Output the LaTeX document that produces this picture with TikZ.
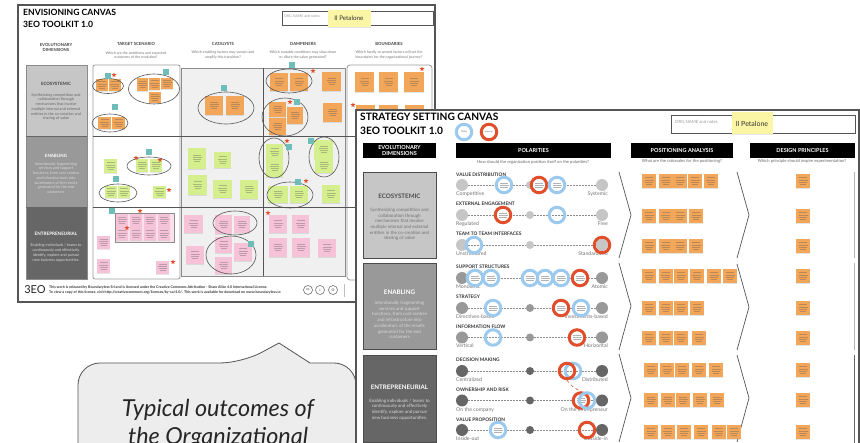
\documentclass[tikz,border=0pt]{standalone}
\usepackage{amsmath}
\usepackage{fontspec}
\setmainfont{Lato}
\usetikzlibrary{shapes.geometric,shadows}
\definecolor{frameG}{HTML}{555555}
\definecolor{stO}{HTML}{F2A65A}
\definecolor{stG}{HTML}{D6EF8E}
\definecolor{stP}{HTML}{F6C2D8}
\definecolor{tagC}{HTML}{6FBDB8}
\definecolor{redR}{HTML}{E04E2B}
\definecolor{bluR}{HTML}{9CC9EE}
\definecolor{yelS}{HTML}{FBF5A6}
\definecolor{dimA}{HTML}{C6C6C6}
\definecolor{dimB}{HTML}{999999}
\definecolor{dimC}{HTML}{666666}
\newcommand{\fs}[1]{\fontsize{#1}{\dimexpr#1pt*5/4\relax}\selectfont}
\tikzset{
	sz/.style 2 args={minimum width=#1pt,minimum height=#2pt},
	sticky/.style={rectangle,inner sep=0pt,drop shadow={shadow xshift=0pt,shadow yshift=-1pt,opacity=.2},
		path picture={\draw[black!70,line width=.6pt,opacity=.33]
			([yshift=3.3pt]path picture bounding box.center) ++(-4,0) -- ++(8,0)
			([yshift=1.1pt]path picture bounding box.center) ++(-4.5,0) -- ++(9,0)
			([yshift=-1.1pt]path picture bounding box.center) ++(-4,0) -- ++(8,0)
			([yshift=-3.3pt]path picture bounding box.center) ++(-3,0) -- ++(6,0);}},
	ost/.style={sticky,fill=stO},
	gst/.style={sticky,fill=stG},
	pst/.style={sticky,fill=stP},
	pa/.style={ost,sz={14}{14}},
	tagbox/.style={rectangle,fill=tagC,minimum size=6pt,inner sep=0pt},
	rstar/.style={star,star points=5,star point ratio=2.2,fill=redR,minimum size=5pt,inner sep=0pt},
	oval/.style={draw=frameG,line width=.6pt},
	head/.style={font=\bfseries\fs{4.2},text=black!75,align=center},
	qst/.style={font=\fs{3.6},text=black!55,align=center},
	dimbox/.style={rectangle,draw=black!70,line width=.7pt,inner sep=0pt,minimum width=73pt,minimum height=86pt},
	blackh/.style={rectangle,fill=black,text=white,font=\bfseries\fs{5.5},align=center,inner sep=0pt,minimum height=15pt},
	dimtit/.style={font=\bfseries\fs{6.2},align=center},
	dimtxt/.style={font=\fontsize{4.5}{5.7}\selectfont,align=center},
	dot/.style={circle,inner sep=0pt,minimum size=12pt},
	mid/.style={circle,inner sep=0pt,minimum size=8pt},
	pol/.style={dash pattern=on 2pt off 1pt,draw=black!45,line width=.5pt},
	poltit/.style={anchor=west,font=\bfseries\fs{4.8},text=black!80,inner sep=0pt},
	polL/.style={anchor=west,font=\fs{5.2},text=black!55,inner sep=0pt},
	polR/.style={anchor=east,font=\fs{5.2},text=black!55,inner sep=0pt},
	ring/.style={circle,inner sep=0pt,minimum size=15.5pt,line width=3pt},
	rb/.style={ring,draw=bluR},
	rr/.style={ring,draw=redR},
	rtx/.style={fill=white,path picture={\draw[black!60,line width=.6pt,opacity=.5]
			([yshift=2pt]path picture bounding box.center) ++(-4,0) -- ++(8,0)
			(path picture bounding box.center) ++(-4.5,0) -- ++(9,0)
			([yshift=-2pt]path picture bounding box.center) ++(-4,0) -- ++(8,0);}},
	chev/.style={draw=frameG,line width=.7pt},
	cc/.style={circle,draw=black!65,line width=.5pt,inner sep=0pt,minimum size=7pt,font=\bfseries\fs{3.5},text=black!65}
}
\begin{document}
\begin{tikzpicture}[x=1pt,y=-1pt]
	\useasboundingbox (0,0) rectangle (860,443);
	\clip (0,0) rectangle (860,443);
	\fill[white] (0,0) rectangle (860,443);
	% envisioning canvas
	\draw[frameG,line width=1.5pt,fill=white] (18,5) rectangle (435,302);
	\node[anchor=west,inner sep=0pt,font=\bfseries\fs{8.6}] (envT) at (23,12) {ENVISIONING CANVAS};
	\node[anchor=west,inner sep=0pt,font=\bfseries\fs{8.6}] (envK) at (23,24) {3EO TOOLKIT 1.0};
	\draw[frameG,line width=.7pt] (282,11) rectangle (433,25);
	\node[anchor=west,inner sep=0pt,font=\fs{3.6},text=black!40] (envO) at (284,16) {ORG NAME and notes};
	\node[rectangle,fill=yelS,minimum width=43pt,minimum height=17pt,inner sep=0pt,drop shadow={shadow xshift=0pt,shadow yshift=-1pt,opacity=.2},font=\fs{6.3},text=black!80] (envP) at (349,18.5) {Il Petalone};
	\node[head] (h1) at (56,47.5) {EVOLUTIONARY\\DIMENSIONS};
	\node[head] (h2) at (136,44) {TARGET SCENARIO};
	\node[head] (h3) at (223,44) {CATALYSTS};
	\node[head] (h4) at (303,44) {DAMPENERS};
	\node[head] (h5) at (389,44) {BOUNDARIES};
	\node[qst] (q2) at (136,55) {Which are the ambitions and expected\\outcomes of the evolution?};
	\node[qst] (q3) at (223,55) {Which enabling factors may sustain and\\amplify this transition?};
	\node[qst] (q4) at (303,55) {Which mutable conditions may slow down\\or dilute the value generated?};
	\node[qst] (q5) at (389,55) {Which hardly to amend factors will set the\\boundaries for the organizational journey?};
	% dimensions on the left
	\fill[dimA] (26,65) rectangle (87,136); \fill[dimB] (26,136) rectangle (87,207); \fill[dimC] (26,207) rectangle (87,279);
	\draw[black!45,line width=.5pt] (26,65) rectangle (87,279); \draw[black!60,line width=.5pt] (26,136) -- (87,136); \draw[black!60,line width=.5pt] (26,207) -- (87,207);
	\node[font=\bfseries\fs{4.4},text=black!75] (a1) at (56,84) {ECOSYSTEMIC};
	\node[font=\fs{3.8},text=black!60,align=center] (a2) at (56,107) {Synthesizing competition and\\collaboration through\\mechanisms that involve\\multiple internal and external\\entities in the co-creation and\\sharing of value};
	\node[font=\bfseries\fs{4.4},text=white] (b1) at (56,156) {ENABLING};
	\node[font=\fs{3.8},text=white!85!black,align=center] (b2) at (56,178) {Intentionally fragmenting\\services and support\\functions, from cost centres\\and infrastructures into\\accelerators of the results\\generated for the end\\customers};
	\node[font=\bfseries\fs{4.6},text=white] (c1) at (56,234) {ENTREPRENEURIAL};
	\node[font=\fs{3.8},text=white!85!black,align=center] (c2) at (56,253) {Enabling individuals / teams to\\continuously and effectively\\identify, explore and pursue\\new business opportunities.};
	% columns of the grid
	\draw[black!40,line width=.8pt,fill=white,rounded corners=2pt] (93,65) rectangle (180,279);
	\draw[black!45,line width=.8pt,fill=black!6] (181,68) rectangle (345,276);
	\draw[black!40,line width=.8pt,fill=white,rounded corners=3pt] (347,65) rectangle (432,280);
	\draw[frameG,line width=.5pt] (93,136) -- (356,136); \draw[frameG,line width=.5pt] (93,207) -- (356,207); \draw[frameG,line width=.5pt] (263,68) -- (263,276);
	% orange notes
	\node[ost,sz={12}{12}] (o1) at (102,85) {}; \node[ost,sz={12}{12}] (o2) at (114.5,85) {};
	\node[ost,sz={11}{13}] (o3) at (142.5,84.5) {}; \node[ost,sz={11}{12}] (o4) at (154.5,84) {}; \node[ost,sz={12}{11}] (o5) at (167,83.5) {}; \node[ost,sz={12}{11}] (o6) at (155,97.5) {};
	\node[ost,sz={13}{12}] (o7) at (104.5,123) {}; \node[ost,sz={13}{12}] (o8) at (118.5,123) {};
	\node[ost,sz={18}{19}] (o9) at (214,105.5) {}; \node[ost,sz={18}{19}] (o10) at (235,105.5) {};
	\node[ost,sz={18}{18}] (o11) at (279,82) {}; \node[ost,sz={18}{18}] (o12) at (299,82) {}; \node[ost,sz={19}{19}] (o13) at (331.5,81.5) {};
	\node[ost,sz={17}{15}] (o14) at (277.5,109.5) {}; \node[ost,sz={16}{17}] (o15) at (295,115.5) {}; \node[ost,sz={17}{17}] (o16) at (277.5,126.5) {}; \node[ost,sz={19}{19}] (o17) at (332.5,112.5) {};
	\node[ost,sz={19}{20}] (o18) at (364.5,82) {}; \node[ost,sz={19}{20}] (o19) at (388.5,82) {}; \node[ost,sz={20}{20}] (o20) at (414,82) {};
	\node[ost,sz={19}{20}] (o21) at (365,115) {}; \node[ost,sz={19}{20}] (o22) at (388.5,115) {}; \node[ost,sz={19}{20}] (o23) at (414.5,115) {};
	% green notes
	\node[gst,sz={13}{14}] (g1) at (110.5,166) {}; \node[gst,sz={12}{13}] (g2) at (142,165.5) {}; \node[gst,sz={12}{13}] (g3) at (156,165.5) {};
	\node[gst,sz={12}{12}] (g4) at (111,192) {}; \node[gst,sz={12}{12}] (g5) at (124,192) {}; \node[gst,sz={13}{12}] (g6) at (159.5,192) {};
	\node[gst,sz={18}{21}] (g7) at (197,158.5) {}; \node[gst,sz={17}{16}] (g8) at (222.5,160) {}; \node[gst,sz={19}{20}] (g9) at (197.5,185) {}; \node[gst,sz={19}{18}] (g10) at (222.5,189) {}; \node[gst,sz={18}{19}] (g11) at (249,189.5) {};
	\node[gst,sz={17}{16}] (g12) at (274.5,152) {}; \node[gst,sz={17}{19}] (g13) at (274.5,167.5) {}; \node[gst,sz={19}{19}] (g14) at (323.5,149.5) {}; \node[gst,sz={18}{15}] (g15) at (324,165.5) {};
	\node[gst,sz={20}{17}] (g16) at (278,194.5) {}; \node[gst,sz={18}{17}] (g17) at (299,194.5) {}; \node[gst,sz={18}{18}] (g18) at (331,194) {};
	% pink notes
	\draw[black!45,line width=.8pt,fill=stP!50] (115,213) rectangle (174,242);
	\node[pst,sz={12}{13}] (p1) at (122,220.5) {}; \node[pst,sz={12}{13}] (p2) at (136,220.5) {}; \node[pst,sz={12}{13}] (p3) at (150,220.5) {}; \node[pst,sz={12}{13}] (p4) at (164,220.5) {};
	\node[pst,sz={12}{13}] (p5) at (122,234) {}; \node[pst,sz={12}{13}] (p6) at (136,234) {}; \node[pst,sz={12}{13}] (p7) at (150,234) {}; \node[pst,sz={12}{13}] (p8) at (164,234) {};
	\node[pst,sz={13}{13}] (p9) at (103.5,242.5) {}; \node[pst,sz={13}{14}] (p10) at (103.5,266) {}; \node[pst,sz={13}{13}] (p11) at (162.5,267.5) {};
	\node[pst,sz={19}{18}] (p12) at (193.5,224) {}; \node[pst,sz={18}{18}] (p13) at (195,255) {};
	\node[pst,sz={17}{19}] (p14) at (223.5,224.5) {}; \node[pst,sz={16}{17}] (p15) at (242,224.5) {}; \node[pst,sz={17}{16}] (p16) at (223.5,245) {}; \node[pst,sz={18}{18}] (p17) at (243,252) {}; \node[pst,sz={17}{17}] (p18) at (223.5,265.5) {};
	\node[pst,sz={18}{18}] (p19) at (278,224) {}; \node[pst,sz={17}{18}] (p20) at (300.5,224) {}; \node[pst,sz={18}{19}] (p21) at (278,247.5) {}; \node[pst,sz={18}{19}] (p22) at (301,247.5) {}; \node[pst,sz={18}{18}] (p23) at (327,248) {};
	% ovals round the notes
	\draw[oval] (108,86) ellipse [x radius=15.5,y radius=7.5]; \draw[oval] (154,89) ellipse [x radius=25.5,y radius=15]; \draw[oval] (110,123) ellipse [x radius=18,y radius=9];
	\draw[oval] (226,108) ellipse [x radius=28,y radius=16]; \draw[oval] (289,81) ellipse [x radius=23,y radius=12]; \draw[oval] (285,117) ellipse [x radius=23,y radius=19];
	\draw[oval] (149,166) ellipse [x radius=22,y radius=9]; \draw[oval] (118,193) ellipse [x radius=19,y radius=9];
	\draw[oval] (274,158) ellipse [x radius=15,y radius=20]; \draw[oval] (324,157) ellipse [x radius=15,y radius=20]; \draw[oval] (290,195) ellipse [x radius=23,y radius=13];
	\draw[oval] (235,223) ellipse [x radius=22,y radius=12]; \draw[oval] (231,255) ellipse [x radius=25,y radius=19];
	% tags and stars
	\node[tagbox] (t1) at (108,76) {}; \node[tagbox] (t2) at (166,72) {}; \node[tagbox] (t3) at (115,107) {}; \node[tagbox] (t4) at (224,88) {}; \node[tagbox] (t5) at (292,65) {}; \node[tagbox] (t6) at (297,102) {};
	\node[tagbox] (t7) at (149,152) {}; \node[tagbox] (t8) at (116,179) {}; \node[tagbox] (t9) at (289,147) {}; \node[tagbox] (t10) at (311,141) {}; \node[tagbox] (t11) at (298,182) {}; \node[tagbox] (t12) at (112,211) {}; \node[tagbox] (t13) at (251,244) {};
	\node[rstar] (r1) at (114,75) {}; \node[rstar] (r2) at (313,71) {}; \node[rstar] (r3) at (290,102) {}; \node[rstar] (r4) at (353,105) {}; \node[rstar] (r5) at (422,69) {};
	\node[rstar] (r6) at (136,158) {}; \node[rstar] (r7) at (160,160) {}; \node[rstar] (r8) at (169,190) {}; \node[rstar] (r9) at (287,141) {}; \node[rstar] (r10) at (306,181) {};
	\node[rstar] (r11) at (140,211) {}; \node[rstar] (r12) at (127,228) {}; \node[rstar] (r13) at (173,262) {}; \node[rstar] (r14) at (268,213) {};
	% footer
	\node[font=\fs{11},text=black!85] (logo) at (35,290) {3EO};
	\node[anchor=west,inner sep=0pt,font=\bfseries\fs{3.6},text=black!80] (f1) at (49,287) {This work is released by Boundaryless Srl and is licensed under the Creative Commons Attribution - Share Alike 4.0 International License.};
	\node[anchor=west,inner sep=0pt,font=\bfseries\fs{3.6},text=black!80] (f2) at (49,292) {To view a copy of this license, visit http://creativecommons.org/licenses/by-sa/4.0/. This work is available for download on www.boundaryless.io};
	\node[cc,minimum size=9pt] (cc1) at (308,290) {cc}; \node[cc,minimum size=9pt] (cc2) at (320,290) {i}; \node[cc,minimum size=9pt] (cc3) at (333,290) {O};
	\draw[black!25,line width=.4pt] (344,284) -- (344,297);
	% speech bubble
	\draw[frameG,line width=.8pt,fill=black!7,rounded corners=22pt] (78,470) -- (78,363) -- (242,363) [sharp corners] -- (279,343) -- (310,363) [rounded corners=22pt] -- (356,363) -- (356,470) -- cycle;
	\node[font=\itshape\fontsize{23.4}{28}\selectfont,align=center,text=black!85] (bub) at (218,424.5) {Typical outcomes of\\the Organizational};
	% strategy setting canvas
	\draw[frameG,line width=1.5pt,fill=white] (356,110) rectangle (859,470);
	\node[anchor=west,inner sep=0pt,font=\bfseries\fs{10.2}] (strT) at (360,117) {STRATEGY SETTING CANVAS};
	\node[anchor=west,inner sep=0pt,font=\bfseries\fs{10.2}] (strK) at (360,131) {3EO TOOLKIT 1.0};
	\node[rb,font=\fs{2.4},text=black!60] (legB) at (464,132) {Today};
	\node[rr,font=\fs{2},text=black!60] (legR) at (489,132) {Ambition};
	\draw[frameG,line width=.7pt] (671,115) rectangle (855,133);
	\node[anchor=west,inner sep=0pt,font=\fs{4.3},text=black!40] (strO) at (675,122) {ORG NAME and notes};
	\node[rectangle,fill=yelS,minimum width=41pt,minimum height=22pt,inner sep=0pt,drop shadow={shadow xshift=0pt,shadow yshift=-1pt,opacity=.2},font=\fs{7},text=black!80] (strP) at (752,123.5) {Il Petalone};
	\node[blackh,minimum width=73pt] (hA) at (399.5,150.5) {EVOLUTIONARY\\DIMENSIONS};
	\node[blackh,minimum width=155pt] (hB) at (533.5,150.5) {POLARITIES};
	\node[blackh,minimum width=102pt] (hC) at (682,150.5) {POSITIONING ANALYSIS};
	\node[blackh,minimum width=105pt] (hD) at (802.5,150.5) {DESIGN PRINCIPLES};
	\node[font=\fs{4.2},text=black!60] (qB) at (533,162.5) {How should the organization position itself on the polarities?};
	\node[font=\fs{4.2},text=black!60] (qC) at (682,161.5) {What are the rationales for the positioning?};
	\node[font=\fs{4.2},text=black!60] (qD) at (802,161.5) {Which principle should inspire experimentation?};
	\node[dimbox,fill=dimA] (eco) at (399.5,215) {}; \node[dimbox,fill=dimB] (ena) at (399.5,306.5) {}; \node[dimbox,fill=dimC,minimum height=87pt] (ent) at (399.5,398.5) {};
	\node[dimtit,text=black!70] (ecoT) at (399.5,196) {ECOSYSTEMIC};
	\node[dimtxt,text=black!55] (ecoX) at (399.5,224.5) {Synthesizing competition and\\collaboration through\\mechanisms that involve\\multiple internal and external\\entities in the co-creation and\\sharing of value};
	\node[dimtit,text=white] (enaT) at (399.5,292) {ENABLING};
	\node[dimtxt,text=white!85!black] (enaX) at (399.5,320) {Intentionally fragmenting\\services and support\\functions, from cost centres\\and infrastructure into\\accelerators of the results\\generated for the end\\customers};
	\node[dimtit,text=white] (entT) at (399.5,387) {ENTREPRENEURIAL};
	\node[dimtxt,text=white!85!black] (entX) at (399.5,409.5) {Enabling individuals / teams to\\continuously and effectively\\identify, explore and pursue\\new business opportunities.};
	% polarities
	\node[poltit] (vdT) at (456,175) {VALUE DISTRIBUTION}; \node[dot,fill=dimA] (vdL) at (462,185) {}; \node[mid,fill=dimA] (vdM) at (530,185) {}; \node[dot,fill=dimA] (vdR) at (602,185) {};
	\node[polL] (vdA) at (456,194) {Competitive}; \node[polR] (vdB) at (608,194) {Systemic};
	\node[poltit] (eeT) at (456,204) {EXTERNAL ENGAGEMENT}; \node[dot,fill=dimA] (eeL) at (462,215) {}; \node[mid,fill=dimA] (eeM) at (530,215) {}; \node[dot,fill=dimA] (eeR) at (602,215) {};
	\node[polL] (eeA) at (456,224) {Regulated}; \node[polR] (eeB) at (608,224) {Free};
	\node[poltit] (ttT) at (456,234) {TEAM TO TEAM INTERFACES}; \node[dot,fill=dimA] (ttL) at (462,245) {}; \node[mid,fill=dimA] (ttM) at (530,245) {}; \node[dot,fill=dimA] (ttR) at (602,245) {};
	\node[polL] (ttA) at (456,253.5) {Unstructured}; \node[polR] (ttB) at (608,253.5) {Standardized};
	\node[poltit] (ssT) at (456,267) {SUPPORT STRUCTURES}; \node[dot,fill=dimB] (ssL) at (462,278) {}; \node[mid,fill=dimB] (ssM) at (530,278) {}; \node[dot,fill=dimB] (ssR) at (602,278) {};
	\node[polL] (ssA) at (456,287) {Monolithic}; \node[polR] (ssB) at (608,287) {Atomic};
	\node[poltit] (stT) at (456,297) {STRATEGY}; \node[dot,fill=dimB] (stL) at (462,308) {}; \node[mid,fill=dimB] (stM) at (530,308) {}; \node[dot,fill=dimB] (stR) at (602,308) {};
	\node[polL] (stA) at (456,317) {Directives-based}; \node[polR] (stB) at (608,317) {Investments-based};
	\node[poltit] (ifT) at (456,326.5) {INFORMATION FLOW}; \node[dot,fill=dimB] (ifL) at (462,337.5) {}; \node[mid,fill=dimB] (ifM) at (530,337.5) {}; \node[dot,fill=dimB] (ifR) at (602,337.5) {};
	\node[polL] (ifA) at (456,346) {Vertical}; \node[polR] (ifB) at (608,346) {Horizontal};
	\node[poltit] (dmT) at (456,360) {DECISION MAKING}; \node[dot,fill=dimC] (dmL) at (462,371) {}; \node[mid,fill=dimC] (dmM) at (530,371) {}; \node[dot,fill=dimC] (dmR) at (602,371) {};
	\node[polL] (dmA) at (456,380) {Centralized}; \node[polR] (dmB) at (608,380) {Distributed};
	\node[poltit] (orT) at (456,389.5) {OWNERSHIP AND RISK}; \node[dot,fill=dimC] (orL) at (462,400.5) {}; \node[mid,fill=dimC] (orM) at (530,400.5) {}; \node[dot,fill=dimC] (orR) at (602,400.5) {};
	\node[polL] (orA) at (456,410) {On the company}; \node[polR] (orB) at (608,410) {On the entrepreneur};
	\node[poltit] (vpT) at (456,419.5) {VALUE PROPOSITION}; \node[dot,fill=dimC] (vpL) at (462,430) {}; \node[mid,fill=dimC] (vpM) at (530,430) {}; \node[dot,fill=dimC] (vpR) at (602,430) {};
	\node[polL] (vpA) at (456,439) {Inside-out}; \node[polR] (vpB) at (608,439) {Outside-in};
	\draw[pol] (vdL) -- (vdM); \draw[pol] (vdM) -- (vdR); \draw[pol] (eeL) -- (eeM); \draw[pol] (eeM) -- (eeR); \draw[pol] (ttL) -- (ttM); \draw[pol] (ttM) -- (ttR);
	\draw[pol] (ssL) -- (ssM); \draw[pol] (ssM) -- (ssR); \draw[pol] (stL) -- (stM); \draw[pol] (stM) -- (stR); \draw[pol] (ifL) -- (ifM); \draw[pol] (ifM) -- (ifR);
	\draw[pol] (dmL) -- (dmM); \draw[pol] (dmM) -- (dmR); \draw[pol] (orL) -- (orM); \draw[pol] (orM) -- (orR); \draw[pol] (vpL) -- (vpM); \draw[pol] (vpM) -- (vpR);
	% rings on the polarities
	\node[rb,rtx] (vd1) at (504,185) {}; \node[rr,rtx] (vd2) at (539,185) {}; \node[rb,rtx] (vd3) at (557,185) {};
	\node[rr,rtx] (ee1) at (503,215) {}; \node[rb] (ee2) at (557,215) {};
	\node[rb] (tt1) at (474,245) {}; \node[rr] (tt2) at (602,245) {};
	\node[rb,rtx] (ss1) at (475,278) {}; \node[rb,rtx] (ss2) at (491,278) {}; \node[rb,rtx] (ss3) at (530,278) {}; \node[rb,rtx] (ss4) at (545,278) {}; \node[rb,rtx] (ss5) at (561,278) {}; \node[rr,rtx] (ss6) at (580,278) {};
	\node[rb,rtx] (st1) at (493,308) {}; \node[rr,rtx] (st2) at (561,308) {}; \node[rb,rtx] (st3) at (581,308) {};
	\node[rb] (if1) at (493,337.5) {}; \node[rr,rtx] (if2) at (577,337.5) {};
	\node[rb] (dm1) at (573,371) {}; \node[rr] (dm2) at (567,371) {};
	\node[rr,rtx] (or1) at (581,400.5) {}; \node[rb] (or2) at (587,400.5) {};
	\node[rb,rtx] (vp1) at (498,430) {}; \node[rr] (vp2) at (587,430) {};
	\draw[redR,dashed,line width=.6pt] (dm2.south) to[bend right=15] (or1.north);
	% chevrons
	\coordinate (ca1) at (619,172); \coordinate (ca2) at (631,215); \coordinate (ca3) at (619,258); \draw[chev] (ca1) -- (ca2) -- (ca3);
	\coordinate (cb1) at (737,172); \coordinate (cb2) at (749,215); \coordinate (cb3) at (737,258); \draw[chev] (cb1) -- (cb2) -- (cb3);
	\coordinate (cc4) at (619,263); \coordinate (cc5) at (631,306); \coordinate (cc6) at (619,350); \draw[chev] (cc4) -- (cc5) -- (cc6);
	\coordinate (cd1) at (737,264); \coordinate (cd2) at (749,307); \coordinate (cd3) at (737,350); \draw[chev] (cd1) -- (cd2) -- (cd3);
	\coordinate (ce1) at (619,354); \coordinate (ce2) at (631,398); \coordinate (ce3) at (619,442); \draw[chev] (ce1) -- (ce2) -- (ce3);
	\coordinate (cf1) at (737,355); \coordinate (cf2) at (749,398); \coordinate (cf3) at (737,442); \draw[chev] (cf1) -- (cf2) -- (cf3);
	\draw[black!30,line width=.6pt] (854,172) -- (854,258); \draw[black!30,line width=.6pt] (854,263) -- (854,350); \draw[black!60,line width=.8pt] (854,355) -- (854,443);
	% positioning notes
	\node[pa] (a11) at (649,181) {}; \node[pa] (a12) at (665.5,181) {}; \node[pa] (a13) at (680,181) {}; \node[pa] (a14) at (695,181) {}; \node[pa] (a15) at (710.5,181) {};
	\node[pa] (a21) at (649,216) {}; \node[pa] (a22) at (665.5,216) {}; \node[pa] (a23) at (680,216) {}; \node[pa] (a24) at (696,216) {};
	\node[pa] (a31) at (649,246) {}; \node[pa] (a32) at (665.5,246) {}; \node[pa] (a33) at (680,246) {}; \node[pa] (a34) at (696,246) {};
	\node[pa] (a41) at (649,276) {}; \node[pa] (a42) at (665.5,276) {}; \node[pa] (a43) at (681,276) {}; \node[pa] (a44) at (696.5,276) {}; \node[pa] (a45) at (714,276) {}; \node[pa] (a46) at (730,276) {};
	\node[pa] (a51) at (649,308) {}; \node[pa] (a52) at (665.5,308) {}; \node[pa] (a53) at (681,308) {}; \node[pa] (a54) at (697,308) {};
	\node[pa] (a61) at (649,338) {}; \node[pa] (a62) at (665.5,338) {}; \node[pa] (a63) at (681,338) {}; \node[pa] (a64) at (699,338) {};
	\node[pa] (a71) at (651,370) {}; \node[pa] (a72) at (667,370) {}; \node[pa] (a73) at (682,370) {}; \node[pa] (a74) at (699,370) {}; \node[pa] (a75) at (716,370) {};
	\node[pa] (a81) at (651,400.5) {}; \node[pa] (a82) at (667.5,400.5) {}; \node[pa] (a83) at (683,400.5) {}; \node[pa] (a84) at (700,400.5) {}; \node[pa] (a85) at (717,400.5) {};
	\node[pa] (a91) at (651,432) {}; \node[pa] (a92) at (667.5,432) {}; \node[pa] (a93) at (684,432) {}; \node[pa] (a94) at (701,432) {}; \node[pa] (a95) at (718.5,432) {}; \node[pa] (a96) at (734,432) {};
	% design principle notes
	\node[pa] (d1) at (803,181) {}; \node[pa] (d2) at (803,216) {}; \node[pa] (d3) at (803,246) {}; \node[pa] (d4) at (803,276) {}; \node[pa] (d5) at (803,308) {};
	\node[pa] (d6) at (803,338) {}; \node[pa] (d7) at (803,370) {}; \node[pa] (d8) at (803,400) {}; \node[pa] (d9) at (803,432) {};
\end{tikzpicture}
\end{document}
